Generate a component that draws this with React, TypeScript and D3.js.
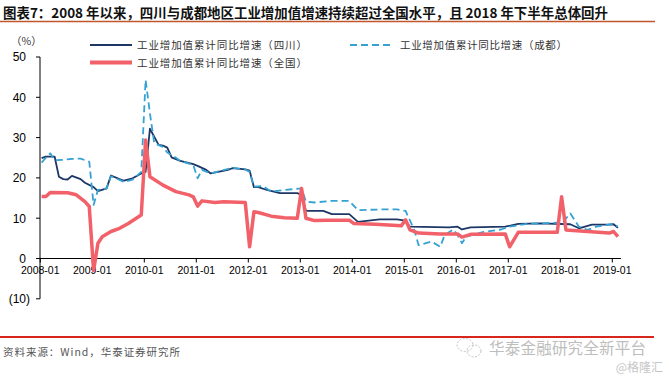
import React from "react";
import * as d3 from "d3";

const W = 669;
const H = 377;

const yearTicks = ["2008-01","2009-01","2010-01","2011-01","2012-01","2013-01","2014-01","2015-01","2016-01","2017-01","2018-01","2019-01"];
const yTicks = [50, 40, 30, 20, 10, 0, -10];

const sichuanDates = ["2008-01","2008-02","2008-04","2008-05","2008-06","2008-07","2008-08","2008-10","2008-11","2009-01","2009-02","2009-04","2009-05","2009-07","2009-08","2009-10","2009-12","2010-01","2010-02","2010-04","2010-05","2010-06","2010-07","2010-09","2010-12","2011-01","2011-03","2011-04","2011-08","2011-09","2011-12","2012-01","2012-02","2012-03","2012-05","2012-08","2012-12","2013-01","2013-02","2013-06","2013-08","2013-12","2014-02","2014-07","2014-11","2015-01","2015-02","2015-11","2016-01","2016-02","2016-04","2016-12","2017-03","2017-08","2018-03","2018-05","2018-08","2018-12","2019-01","2019-02"];
const sichuanValues = [24.9,25.3,25.3,20.3,19.7,19.6,20.5,19.7,18.8,17.7,16.7,17.4,20.6,19.7,19.3,19.9,21.1,21.5,32.2,28.2,28.0,27.5,25.1,24.2,23.4,23.0,22.0,21.1,22.0,22.4,22.1,21.8,17.7,17.7,17.0,16.2,16.2,15.8,11.8,11.8,11.0,11.0,9.1,9.7,9.7,9.4,7.9,7.7,7.9,7.2,7.7,7.9,8.6,8.7,8.5,7.5,8.4,8.4,8.5,7.6];

const chengduDates = ["2008-01","2008-02","2008-03","2008-04","2008-06","2008-08","2008-10","2008-12","2009-01","2009-02","2009-04","2009-05","2009-07","2009-08","2009-10","2009-12","2010-01","2010-02","2010-03","2010-05","2010-06","2010-08","2010-09","2010-12","2011-01","2011-02","2011-04","2011-09","2011-12","2012-01","2012-02","2012-04","2012-06","2012-09","2013-01","2013-02","2013-04","2013-08","2013-12","2014-02","2014-05","2014-08","2014-11","2015-01","2015-03","2015-04","2015-07","2015-09","2015-10","2015-12","2016-01","2016-02","2016-03","2016-07","2016-11","2017-01","2017-05","2017-08","2017-12","2018-01","2018-03","2018-05","2018-07","2018-09","2019-01","2019-02"];
const chengduValues = [23.8,25.0,26.1,24.4,24.5,24.7,24.8,24.0,13.3,17.0,17.4,20.4,19.5,19.0,19.6,21.5,44.3,36.0,28.6,27.7,26.3,25.0,24.2,23.2,19.9,22.0,21.1,22.5,22.1,21.5,17.8,18.0,16.6,17.0,17.4,14.1,13.9,14.3,14.3,12.0,12.1,12.2,12.2,11.8,7.1,3.3,4.2,2.9,5.8,7.2,5.8,3.8,5.4,6.6,7.2,7.9,8.6,8.7,8.9,8.6,11.2,7.9,7.1,7.9,8.6,7.9];

const nationalDates = ["2008-01","2008-02","2008-03","2008-07","2008-09","2008-11","2008-12","2009-01","2009-02","2009-03","2009-05","2009-07","2009-09","2009-12","2010-01","2010-02","2010-05","2010-08","2010-11","2010-12","2011-01","2011-02","2011-05","2011-07","2011-12","2012-01","2012-02","2012-03","2012-06","2012-09","2012-12","2013-01","2013-02","2013-04","2013-07","2013-12","2014-01","2014-06","2014-09","2014-12","2015-01","2015-02","2015-04","2015-09","2016-01","2016-02","2016-04","2016-12","2017-01","2017-03","2017-12","2018-01","2018-02","2018-07","2018-12","2019-01","2019-02"];
const nationalValues = [15.4,15.4,16.4,16.3,15.8,14.1,12.9,-3.0,3.8,5.4,6.7,7.5,8.7,10.8,29.4,20.3,18.2,16.6,15.8,15.3,13.0,14.3,13.9,14.1,13.9,2.9,11.6,11.4,10.5,10.1,10.0,17.4,10.0,9.4,9.5,9.5,8.7,8.5,8.3,8.1,9.6,7.1,6.3,6.1,6.1,5.3,6.0,6.1,2.9,6.5,6.5,15.3,7.1,6.7,6.3,6.7,5.4];

const seriesNames = ["工业增加值累计同比增速（四川）", "工业增加值累计同比增速（成都）", "工业增加值累计同比增速（全国）"];

const monthIndex = (s: string) => {
  const [y, m] = s.split("-").map(Number);
  return (y - 2008) * 12 + (m - 1);
};

const x = d3.scaleLinear().domain([0, 132]).range([40.3, 612.3]);
const y = d3.scaleLinear().domain([-10, 50]).range([298.8, 57]);

const toPts = (dates: string[], vals: number[]) => dates.map((d, i) => [monthIndex(d) + 0.3, vals[i]] as [number, number]);
const line = d3.line<[number, number]>().x(d => x(d[0])).y(d => y(d[1]));

const NAVY = "#1d3766";
const BLUE = "#35a2d3";
const RED = "#f2616a";
const fmt = (v: number) => (v < 0 ? `(${Math.abs(v)})` : `${v}`);

export default function App() {
  const axisY = y(0);
  const xEnd = x(134);
  return (
    <div style={{ position: "fixed", left: 0, top: 0 }}>
      <svg width={W} height={H} style={{ display: "block", background: "#fff" }}>
        {/* title */}
        <text x={3} y={17.5} fontFamily="'Noto Sans CJK SC', sans-serif" fontWeight={700} fontSize={13.5} fill="#111" textLength={605} lengthAdjust="spacingAndGlyphs">
          图表7：2008 年以来，四川与成都地区工业增加值增速持续超过全国水平，且 2018 年下半年总体回升
        </text>
        <line x1={0} x2={655} y1={21.5} y2={21.5} stroke="#c0562a" strokeWidth={1.3} />

        {/* unit */}
        <text x={11} y={45} fontFamily="'Noto Sans CJK SC', sans-serif" fontSize={10.5} fill="#333">（%）</text>

        {/* legend */}
        <line x1={90} x2={132} y1={45} y2={45} stroke={NAVY} strokeWidth={2} />
        <text x={137} y={49} fontFamily="'Noto Sans CJK SC', sans-serif" fontSize={10.5} fill="#333" textLength={170} lengthAdjust="spacing">{seriesNames[0]}</text>
        <line x1={350} x2={392} y1={45} y2={45} stroke={BLUE} strokeWidth={2} strokeDasharray="7,4" />
        <text x={400} y={49} fontFamily="'Noto Sans CJK SC', sans-serif" fontSize={10.5} fill="#333" textLength={167} lengthAdjust="spacing">{seriesNames[1]}</text>
        <line x1={90} x2={132} y1={62.5} y2={62.5} stroke={RED} strokeWidth={4} />
        <text x={137} y={66.5} fontFamily="'Noto Sans CJK SC', sans-serif" fontSize={10.5} fill="#333" textLength={170} lengthAdjust="spacing">{seriesNames[2]}</text>

        {/* y axis */}
        <line x1={40} x2={40} y1={y(50)} y2={y(-10)} stroke="#000" strokeWidth={1} />
        {yTicks.map(t => (
          <g key={t}>
            <line x1={36} x2={40} y1={y(t)} y2={y(t)} stroke="#000" strokeWidth={1} />
            <text x={t < 0 ? 30 : 26} y={y(t) + 4.3} textAnchor="end" fontFamily="'Liberation Sans', Arial, sans-serif" fontSize={12} fill="#000">{fmt(t)}</text>
          </g>
        ))}

        {/* x axis */}
        <line x1={40} x2={xEnd} y1={axisY} y2={axisY} stroke="#000" strokeWidth={1} />
        {yearTicks.map(t => {
          const px = x(monthIndex(t));
          return (
            <g key={t}>
              <line x1={px} x2={px} y1={axisY} y2={axisY + 4} stroke="#000" strokeWidth={1} />
              <text x={px} y={274} textAnchor="middle" fontFamily="'Liberation Sans', Arial, sans-serif" fontSize={10.5} fill="#000">{t}</text>
            </g>
          );
        })}

        {/* series */}
        <path d={line(toPts(sichuanDates, sichuanValues)) || ""} fill="none" stroke={NAVY} strokeWidth={1.8} strokeLinejoin="round" />
        <path d={line(toPts(chengduDates, chengduValues)) || ""} fill="none" stroke={BLUE} strokeWidth={1.8} strokeDasharray="7,4" strokeLinejoin="round" />
        <path d={line(toPts(nationalDates, nationalValues)) || ""} fill="none" stroke={RED} strokeWidth={3.5} strokeLinejoin="round" />

        {/* footer */}
        <line x1={0} x2={654} y1={337} y2={337} stroke="#d7261e" strokeWidth={2} />
        <text x={3} y={356} fontFamily="'Noto Sans CJK SC', sans-serif" fontSize={10.5} fill="#555" textLength={177} lengthAdjust="spacing">资料来源：Wind，华泰证券研究所</text>

        {/* watermark */}
        <g fill="none" stroke="#c4c4c4" strokeWidth={1} strokeDasharray="2,1.5">
          <ellipse cx={465} cy={345} rx={8} ry={6.5} />
          <ellipse cx={474} cy={351} rx={7} ry={6} />
        </g>
        <text x={489} y={354} fontFamily="'Noto Sans CJK SC', sans-serif" fontSize={15.5} fill="#bdbdbd" textLength={157} lengthAdjust="spacing">华泰金融研究全新平台</text>
        <text x={663} y={372} textAnchor="end" fontFamily="'Noto Sans CJK SC', sans-serif" fontSize={12} fill="#c6c6c6">@格隆汇</text>
      </svg>
    </div>
  );
}
